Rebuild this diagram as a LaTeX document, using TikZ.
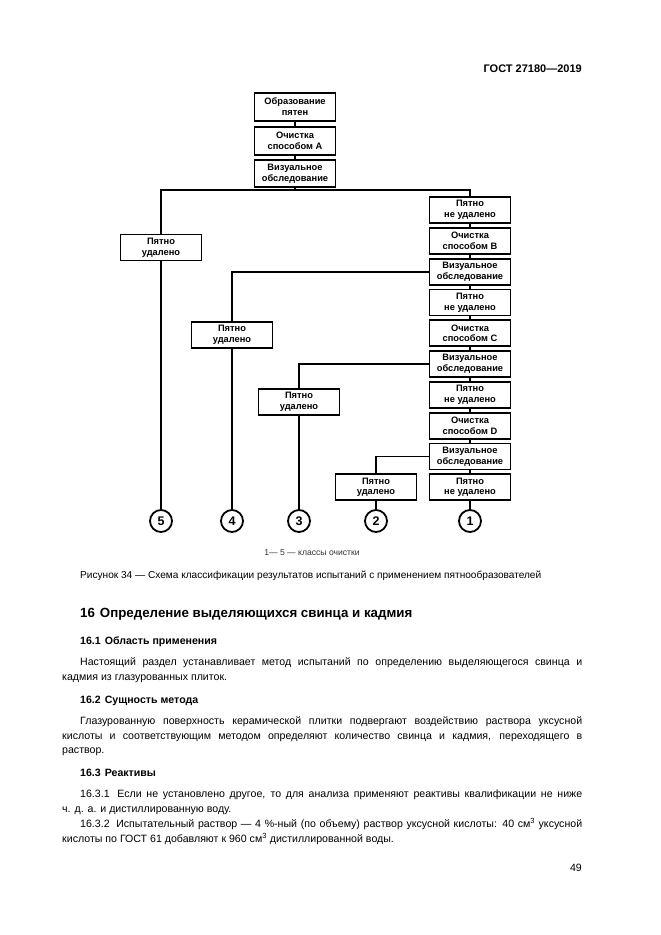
\documentclass[tikz,border=0pt]{standalone}
\usepackage{fontspec}
\setmainfont{Liberation Sans}
\begin{document}
\begin{tikzpicture}[x=1pt,y=-1pt,
  box/.style={draw, line width=1.8pt, minimum width=81pt, minimum height=26pt, inner sep=0pt, align=center, font=\fontsize{9.3}{10.8}\selectfont\bfseries},
  conn/.style={line width=1.8pt},
  cls/.style={circle, draw, line width=1.8pt, minimum size=22pt, inner sep=0pt, font=\fontsize{12.5}{12.5}\selectfont\bfseries},
  txt/.style={anchor=base west, inner sep=0pt, font=\fontsize{10.6}{12}\selectfont},
  txtr/.style={anchor=base east, inner sep=0pt, font=\fontsize{10.6}{12}\selectfont},
  sub/.style={anchor=base west, inner sep=0pt, font=\fontsize{10.6}{12}\selectfont\bfseries},
  sec/.style={anchor=base west, inner sep=0pt, font=\fontsize{13.3}{15}\selectfont\bfseries},
  small/.style={anchor=base, inner sep=0pt, font=\fontsize{8.6}{10}\selectfont, text=black!80},
  captxt/.style={anchor=base west, inner sep=0pt, font=\fontsize{10.1}{12}\selectfont}
]
\fill[white] (0,0) rectangle (661,935);
\useasboundingbox (0,0) rectangle (661,935);

% header
\node[txtr, font=\fontsize{11}{12}\selectfont\bfseries] (hdr) at (582,72) {ГОСТ 27180—2019};

% top column
\node[box, minimum height=28pt] (a1) at (295,107) {Образование\\пятен};
\node[box, minimum height=28pt] (a2) at (295,141) {Очистка\\способом А};
\node[box, minimum height=27pt] (a3) at (295,173.5) {Визуальное\\обследование};
\coordinate (j0) at (295,190);

% right column
\node[box] (r1) at (470,210) {Пятно\\не удалено};
\node[box] (r2) at (470,240.8) {Очистка\\способом B};
\node[box] (r3) at (470,271.6) {Визуальное\\обследование};
\node[box] (r4) at (470,302.4) {Пятно\\не удалено};
\node[box] (r5) at (470,333.2) {Очистка\\способом C};
\node[box] (r6) at (470,364) {Визуальное\\обследование};
\node[box] (r7) at (470,394.8) {Пятно\\не удалено};
\node[box] (r8) at (470,425.6) {Очистка\\способом D};
\node[box] (r9) at (470,456.4) {Визуальное\\обследование};
\node[box] (r10) at (470,487.2) {Пятно\\не удалено};

% removed boxes
\node[box] (l5) at (161,247.5) {Пятно\\удалено};
\node[box] (l4) at (232,335) {Пятно\\удалено};
\node[box] (l3) at (299,402) {Пятно\\удалено};
\node[box] (l2) at (376,487.2) {Пятно\\удалено};

% classes
\node[cls] (c5) at (161,521) {5};
\node[cls] (c4) at (232,521) {4};
\node[cls] (c3) at (299,521) {3};
\node[cls] (c2) at (376,521) {2};
\node[cls] (c1) at (470,521) {1};

% connectors
\draw[conn] (a1) -- (a2);
\draw[conn] (a2) -- (a3);
\draw[conn] (a3) -- (j0);
\draw[conn] (l5.north) |- (j0) -| (r1.north);
\draw[conn] (r1) -- (r2);
\draw[conn] (r2) -- (r3);
\draw[conn] (r3) -- (r4);
\draw[conn] (r4) -- (r5);
\draw[conn] (r5) -- (r6);
\draw[conn] (r6) -- (r7);
\draw[conn] (r7) -- (r8);
\draw[conn] (r8) -- (r9);
\draw[conn] (r9) -- (r10);
\draw[conn] (r3.west) -| (l4.north);
\draw[conn] (r6.west) -| (l3.north);
\draw[conn] (r9.west) -| (l2.north);
\draw[conn] (l5) -- (c5);
\draw[conn] (l4) -- (c4);
\draw[conn] (l3) -- (c3);
\draw[conn] (l2) -- (c2);
\draw[conn] (r10) -- (c1);

% notes
\node[small] (note) at (312,555) {1— 5 — классы очистки};
\node[captxt] (capt) at (80,578) {Рисунок 34 — Схема классификации результатов испытаний с применением пятнообразователей};

% text
\node[sec] (s16) at (80,617) {16\hspace{5pt}Определение выделяющихся свинца и кадмия};
\node[sub] (s161) at (80,644) {16.1\hspace{4pt}Область применения};
\node[txt] (p1a) at (80,665) {\makebox[502pt][s]{Настоящий раздел устанавливает метод испытаний по определению выделяющегося свинца и}};
\node[txt] (p1b) at (62,680) {кадмия из глазурованных плиток.};
\node[sub] (s162) at (80,703) {16.2\hspace{4pt}Сущность метода};
\node[txt] (p2a) at (80,724) {\makebox[502pt][s]{Глазурованную поверхность керамической плитки подвергают воздействию раствора уксусной}};
\node[txt] (p2b) at (62,739) {\makebox[520pt][s]{кислоты и соответствующим методом определяют количество свинца и кадмия, переходящего в}};
\node[txt] (p2c) at (62,753) {раствор.};
\node[sub] (s163) at (80,776) {16.3\hspace{4pt}Реактивы};
\node[txt] (p3a) at (80,797) {\makebox[502pt][s]{16.3.1\hspace{3pt} Если не установлено другое, то для анализа применяют реактивы квалификации не ниже}};
\node[txt] (p3b) at (62,812) {ч. д. а. и дистиллированную воду.};
\node[txt] (p4a) at (80,827) {\makebox[502pt][s]{16.3.2\hspace{3pt} Испытательный раствор — 4 \%-ный (по объему) раствор уксусной кислоты: 40 см\textsuperscript{3} уксусной}};
\node[txt] (p4b) at (62,842) {кислоты по ГОСТ 61 добавляют к 960 см\textsuperscript{3} дистиллированной воды.};
\node[txtr] (pg) at (582,871) {49};
\end{tikzpicture}
\end{document}
